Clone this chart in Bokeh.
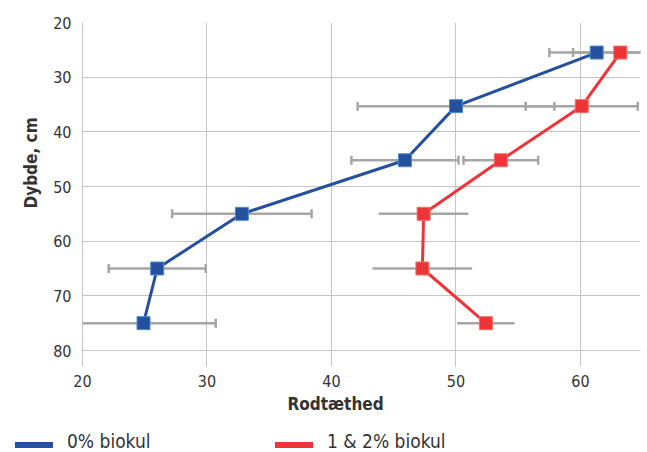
from bokeh.plotting import figure
from bokeh.models import (Range1d, ColumnDataSource, Whisker, TeeHead, FixedTicker, Title, Div)
from bokeh.layouts import column
from bokeh.embed import file_html
from bokeh.resources import INLINE

# ---- data ----
depth = [25.5, 35.3, 45.2, 55, 65, 75]
blue_x = [61.3, 50.0, 45.9, 32.8, 26.0, 24.9]
blue_err = [3.8, 7.9, 4.3, 5.6, 3.9, 5.8]
red_x = [63.2, 60.1, 53.6, 47.4, 47.3, 52.4]
red_err = [3.8, 4.5, 3.0, 3.6, 4.0, 2.3]
red_capped = [True, True, True, False, False, False]
x_ticks = [20, 30, 40, 50, 60]
y_ticks = [20, 30, 40, 50, 60, 70, 80]
labels = ["0% biokul", "1 & 2% biokul"]
x_title = "Rodtæthed"
y_title = "Dybde, cm"

FONT = "DejaVu Sans Condensed"
BLUE = "#24509e"
RED = "#ee3439"
GREY = "#a6a6a6"
GRID = "#c4c4c4"
TXT = "#333333"

p = figure(width=645, height=422, output_backend="svg", toolbar_location=None,
           x_range=Range1d(20, 64.82), y_range=Range1d(80, 20),
           min_border_left=82, min_border_right=5, min_border_top=22, min_border_bottom=72)
p.outline_line_color = None

p.xgrid.ticker = FixedTicker(ticks=x_ticks)
p.ygrid.ticker = FixedTicker(ticks=y_ticks)
p.xaxis.ticker = FixedTicker(ticks=x_ticks)
p.yaxis.ticker = FixedTicker(ticks=y_ticks)
for g in (p.xgrid, p.ygrid):
    g.grid_line_color = GRID
    g.grid_line_width = 1

for ax in (p.xaxis, p.yaxis):
    ax.axis_line_color = GRID
    ax.minor_tick_line_color = None
    ax.major_label_text_font = FONT
    ax.major_label_text_font_size = "16px"
    ax.major_label_text_color = TXT

p.xaxis.major_tick_out = 16
p.xaxis.major_tick_in = 0
p.xaxis.major_tick_line_color = GRID
p.xaxis.major_label_standoff = 8

p.yaxis.major_tick_out = 0
p.yaxis.major_tick_in = 0
p.yaxis.major_label_standoff = 11

yt = Title(text=y_title, align="left", offset=142, standoff=20,
           text_font=FONT, text_font_size="17px", text_font_style="bold", text_color=TXT)
p.add_layout(yt, "left")
xt = Title(text=x_title, align="left", offset=205, standoff=5,
           text_font=FONT, text_font_size="17px", text_font_style="bold", text_color=TXT)
p.add_layout(xt, "below")


def add_bars(xs, errs, ys, capped):
    src = ColumnDataSource(dict(y=ys, lo=[x - e for x, e in zip(xs, errs)],
                                hi=[x + e for x, e in zip(xs, errs)]))
    if capped:
        head_l = TeeHead(size=9, line_color=GREY, line_width=2.5)
        head_u = TeeHead(size=9, line_color=GREY, line_width=2.5)
    else:
        head_l = None
        head_u = None
    p.add_layout(Whisker(source=src, base="y", lower="lo", upper="hi", dimension="width",
                         line_color=GREY, line_width=2.5, lower_head=head_l, upper_head=head_u))


add_bars(blue_x, blue_err, depth, True)
cap_idx = [i for i, c in enumerate(red_capped) if c]
nocap_idx = [i for i, c in enumerate(red_capped) if not c]
add_bars([red_x[i] for i in cap_idx], [red_err[i] for i in cap_idx], [depth[i] for i in cap_idx], True)
add_bars([red_x[i] for i in nocap_idx], [red_err[i] for i in nocap_idx], [depth[i] for i in nocap_idx], False)

p.line(blue_x, depth, line_color=BLUE, line_width=3)
p.scatter(blue_x, depth, marker="square", size=13, fill_color=BLUE, line_color="#4a8fd0", line_width=1)
p.line(red_x, depth, line_color=RED, line_width=3)
p.scatter(red_x, depth, marker="square", size=13, fill_color=RED, line_color="#f07060", line_width=1)

# legend strip (HTML)
def item(left, color, label):
    return (f'<span style="position:absolute;left:{left}px;top:20px;width:38px;height:6px;'
            f'background:{color};"></span>'
            f'<span style="position:absolute;left:{left + 52}px;top:9px;line-height:20px;">{label}</span>')

legend_html = ('<div style="position:relative;width:645px;height:30px;'
               f'font-family:\'{FONT}\';font-size:19px;color:{TXT};white-space:nowrap;">'
               + item(15, BLUE, labels[0]) + item(275, RED, labels[1]) + '</div>')
leg = Div(text=legend_html, width=645, height=30, margin=0)

open("out.html", "w").write(file_html(column(p, leg, spacing=0), INLINE))
